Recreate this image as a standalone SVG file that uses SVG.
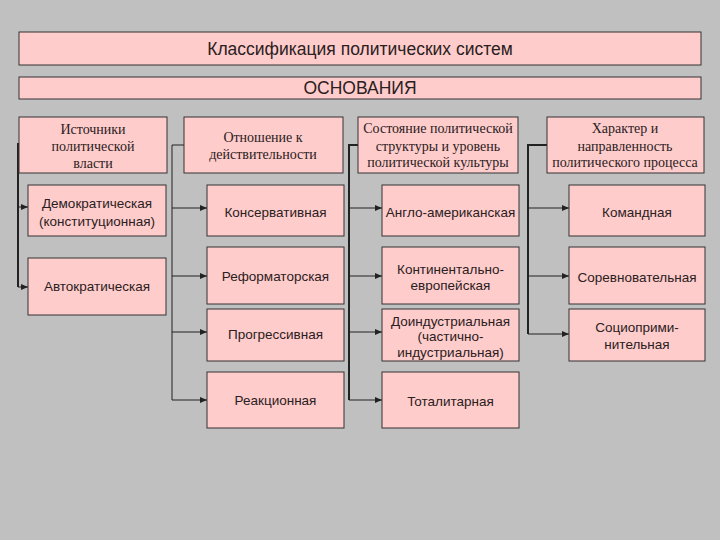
<svg xmlns="http://www.w3.org/2000/svg" width="720" height="540" viewBox="0 0 720 540">
<defs>
<style>
.box{fill:#ffcccc;stroke:#333;stroke-width:1}
.s{font-family:"Liberation Sans",Arial,sans-serif;font-size:13.5px;fill:#2a2020;text-anchor:middle}
.t{font-family:"Liberation Serif","Times New Roman",serif;font-size:14px;fill:#2a2020;text-anchor:middle}
.big{font-family:"Liberation Sans",Arial,sans-serif;font-size:17.5px;fill:#2a2020;text-anchor:middle}
.c{fill:none;stroke:#222}
.thick{stroke-width:2}
.thin{stroke-width:1}
.a{fill:none;stroke:#222;stroke-width:1;marker-end:url(#arr)}
</style>
<marker id="arr" markerUnits="userSpaceOnUse" markerWidth="8" markerHeight="8" refX="7" refY="4" orient="auto">
<path d="M0,1 L7,4 L0,7 Z" fill="#222"/>
</marker>
</defs>
<rect width="720" height="540" fill="#c0c0c0"/>

<g id="title"><rect class="box" x="19" y="32" width="682" height="33"/><text class="big" x="360" y="55">Классификация политических систем</text></g>
<g id="osnovaniya"><rect class="box" x="19" y="77" width="682" height="22"/><text class="big" x="360" y="94">ОСНОВАНИЯ</text></g>

<g id="connectors">
<path class="c thick" d="M19,144 H18 V287"/>
<path class="a" d="M18,207 H28"/>
<path class="a" d="M18,287 H28"/>
<path class="c thin" d="M184,145 H172 V400"/>
<path class="a" d="M172,208 H207"/>
<path class="a" d="M172,276 H207"/>
<path class="a" d="M172,332 H207"/>
<path class="a" d="M172,400 H207"/>
<path class="c thick" d="M360,145 H349 V400"/>
<path class="a" d="M349,208 H382"/>
<path class="a" d="M349,276 H382"/>
<path class="a" d="M349,332 H382"/>
<path class="a" d="M349,400 H382"/>
<path class="c thick" d="M547,145 H528 V334"/>
<path class="a" d="M528,208 H569"/>
<path class="a" d="M528,276 H569"/>
<path class="a" d="M528,334 H569"/>
</g>

<g id="h1"><rect class="box" x="19" y="117" width="148" height="56"/><text class="t" x="93" y="134">Источники</text><text class="t" x="93" y="151">политической</text><text class="t" x="93" y="168">власти</text></g>
<g id="h2"><rect class="box" x="184" y="117" width="159" height="56"/><text class="t" x="263" y="142">Отношение к</text><text class="t" x="263" y="159">действительности</text></g>
<g id="h3"><rect class="box" x="358" y="117" width="160" height="56"/><text class="t" x="438" y="133">Состояние политической</text><text class="t" x="438" y="151">структуры и уровень</text><text class="t" x="438" y="167">политической культуры</text></g>
<g id="h4"><rect class="box" x="547" y="117" width="157" height="56"/><text class="t" x="625" y="133">Характер и</text><text class="t" x="625" y="151">направленность</text><text class="t" x="625" y="167">политического процесса</text></g>

<g id="dem"><rect class="box" x="28" y="185" width="138" height="51"/><text class="s" x="97" y="208">Демократическая</text><text class="s" x="97" y="226">(конституционная)</text></g>
<g id="avt"><rect class="box" x="28" y="258" width="138" height="57"/><text class="s" x="97" y="291">Автократическая</text></g>

<g id="kons"><rect class="box" x="207" y="185" width="137" height="51"/><text class="s" x="275.5" y="216.5">Консервативная</text></g>
<g id="ref"><rect class="box" x="207" y="247" width="137" height="57"/><text class="s" x="275.5" y="281">Реформаторская</text></g>
<g id="prog"><rect class="box" x="207" y="309" width="137" height="52"/><text class="s" x="275.5" y="339">Прогрессивная</text></g>
<g id="reak"><rect class="box" x="207" y="372" width="137" height="56"/><text class="s" x="275.5" y="405">Реакционная</text></g>

<g id="anglo"><rect class="box" x="382" y="185" width="137" height="51"/><text class="s" x="450.5" y="216.5">Англо-американская</text></g>
<g id="kont"><rect class="box" x="382" y="247" width="137" height="57"/><text class="s" x="450.5" y="273.5">Континентально-</text><text class="s" x="450.5" y="289.5">европейская</text></g>
<g id="doind"><rect class="box" x="382" y="309" width="137" height="52"/><text class="s" x="450.5" y="325.5">Доиндустриальная</text><text class="s" x="450.5" y="340.5">(частично-</text><text class="s" x="450.5" y="356.5">индустриальная)</text></g>
<g id="total"><rect class="box" x="382" y="372" width="137" height="56"/><text class="s" x="450.5" y="406">Тоталитарная</text></g>

<g id="kom"><rect class="box" x="569" y="185" width="136" height="51"/><text class="s" x="637" y="216.5">Командная</text></g>
<g id="sor"><rect class="box" x="569" y="247" width="136" height="57"/><text class="s" x="637" y="281.5">Соревновательная</text></g>
<g id="soc"><rect class="box" x="569" y="309" width="136" height="52"/><text class="s" x="637" y="331.5">Социоприми-</text><text class="s" x="637" y="348.5">нительная</text></g>
</svg>
